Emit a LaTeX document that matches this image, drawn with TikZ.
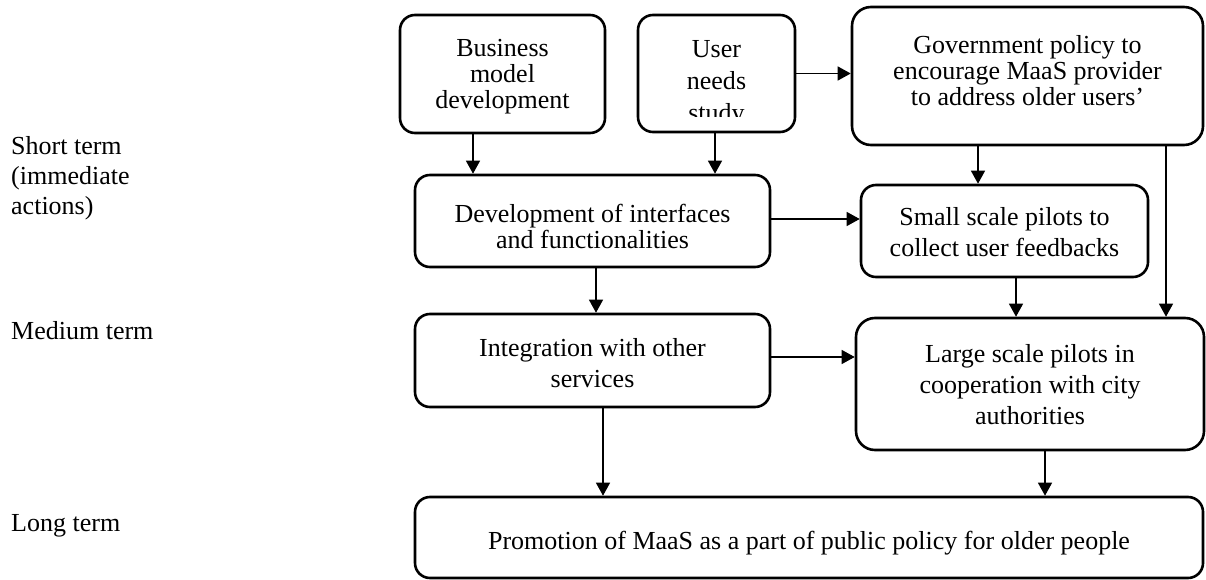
\documentclass[tikz,border=0pt]{standalone}
\usepackage{fontspec}
\setmainfont{Liberation Serif}
\usetikzlibrary{arrows.meta}
\begin{document}
\begin{tikzpicture}[x=1pt,y=-1pt,
  box/.style={draw, line width=2.6pt, rounded corners=15pt, inner sep=0pt},
  bigbox/.style={box, rounded corners=19pt},
  txt/.style={align=center, inner sep=0pt, font=\fontsize{26}{26}\selectfont},
  txtwide/.style={txt, font=\fontsize{26}{31}\selectfont},
  txtloose/.style={txt, font=\fontsize{26}{32}\selectfont},
  term/.style={align=left, inner sep=0pt, font=\fontsize{26}{30}\selectfont},
  arr/.style={-{Triangle[length=13pt,width=14pt]}, line width=1.3pt}]

% page area
\fill[white] (0,0) rectangle (1206,580);
\useasboundingbox (0,0) rectangle (1206,580);

% time horizons
\node[term, anchor=north west] (short) at (11,136.2) {Short term\\(immediate\\actions)};
\node[term, anchor=base west] (medium) at (11,339) {Medium term};
\node[term, anchor=base west] (long) at (11,531) {Long term};

% boxes
\node[box, minimum width=205, minimum height=118] (b1) at (502.5,74) {};
\node[box, minimum width=157, minimum height=117] (b2) at (716.5,73.5) {};
\node[bigbox, minimum width=351, minimum height=138] (b3) at (1027.5,76) {};
\node[box, minimum width=355, minimum height=92] (b4) at (592.5,221) {};
\node[box, minimum width=287, minimum height=92] (b5) at (1004.5,231) {};
\node[box, minimum width=355, minimum height=93] (b6) at (592.5,360.5) {};
\node[bigbox, minimum width=348, minimum height=132] (b7) at (1030,384) {};
\node[box, minimum width=788, minimum height=81] (b8) at (809,537.5) {};

% box texts
\node[txt] (t1) at (502.5,76.2) {Business\\model\\development};
\begin{scope}
  % the last line runs past the text area of its box
  \clip (b2.north west) rectangle (795,117);
  \node[txtloose] (t2) at (716.5,84.2) {User\\needs\\study};
\end{scope}
\node[txt] (t3) at (1027.5,70.5) {Government policy to\\encourage MaaS provider\\to address older users’};
\node[txt] (t4) at (592.5,226.6) {Development of interfaces\\and functionalities};
\node[txtwide] (t5) at (1004.5,232.6) {Small scale pilots to\\collect user feedbacks};
\node[txtwide] (t6) at (592.5,363.6) {Integration with other\\services};
\node[txtwide] (t7) at (1030,385.1) {Large scale pilots in\\cooperation with city\\authorities};
\node[txt] (t8) at (809,542.9) {Promotion of MaaS as a part of public policy for older people};

% connectors
\draw[arr] (b2.east) -- (b2.east -| b3.west);
\draw[arr] ([xshift=-29.5]b1.south) -- ([xshift=-29.5]b1.south |- b4.north);
\draw[arr] ([xshift=-1.5]b2.south) -- ([xshift=-1.5]b2.south |- b4.north);
\draw[arr] ([xshift=-49.5]b3.south) -- ([xshift=-49.5]b3.south |- b5.north);
\draw[arr] ([xshift=138.5]b3.south) -- ([xshift=138.5]b3.south |- b7.north);
\draw[arr] ([yshift=2]b4.east) -- ([yshift=2]b4.east -| b5.west);
\draw[arr] ([xshift=3.5]b4.south) -- ([xshift=3.5]b4.south |- b6.north);
\draw[arr] ([xshift=11.5]b5.south) -- ([xshift=11.5]b5.south |- b7.north);
\draw[arr] ([yshift=3.5]b6.east) -- ([yshift=3.5]b6.east -| b7.west);
\draw[arr] ([xshift=10.5]b6.south) -- ([xshift=10.5]b6.south |- b8.north);
\draw[arr] ([xshift=15]b7.south) -- ([xshift=15]b7.south |- b8.north);
\end{tikzpicture}
\end{document}
